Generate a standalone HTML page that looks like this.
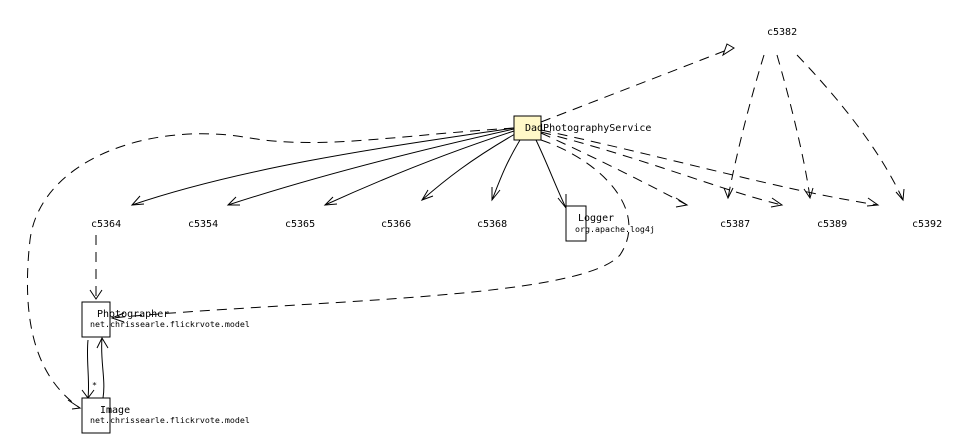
<!DOCTYPE html>
<html><head><meta charset="utf-8"><style>
html,body{margin:0;padding:0;background:#fff;}
svg{display:block;}
text{font-family:"DejaVu Sans Mono","Liberation Mono",monospace;fill:#000;}
.l{font-size:10px;}
.s{font-size:8.3px;}
</style></head><body>
<svg width="958" height="447" viewBox="0 0 958 447" xmlns="http://www.w3.org/2000/svg">
<g fill="none" stroke="#000" stroke-width="1">
<path d="M514 128 C400 145 250 165 132 205"/>
<path d="M514 129 C420 150 320 175 228 205"/>
<path d="M514 131 C440 155 380 180 325 205"/>
<path d="M515 134 C470 160 445 180 422 200"/>
<path d="M520 140 C505 165 500 180 492 200"/>
<path d="M536 140 C548 165 555 185 566 208"/>
<path d="M140 196 L132 205 L144 204"/>
<path d="M236 197 L228 205 L240 205"/>
<path d="M333 197 L325 205 L337 204"/>
<path d="M428 190 L422 200 L433 196"/>
<path d="M492 187 L492 200 L500 190"/>
<path d="M566 194 L566 208 L558 198"/>
</g>
<g fill="none" stroke="#000" stroke-width="1" stroke-dasharray="10,7">
<path d="M541 122 L727 50"/>
<path d="M541 133 C600 160 650 185 687 205"/>
<path d="M541 132 C650 160 720 190 782 205"/>
<path d="M541 130 C680 160 780 190 878 205"/>
<path d="M764 55 C750 100 735 160 728 198"/>
<path d="M777 55 C790 100 805 160 810 198"/>
<path d="M797 55 C840 100 880 150 903 200"/>
<path d="M96 235 L96 298"/>
<path d="M514 128 C400 135 320 150 250 138 C150 120 40 160 30 240 C20 330 40 380 80 408"/>
<path d="M541 140 C600 160 650 210 620 255 C580 300 300 300 112 318"/>
</g>
<g fill="none" stroke="#000">
<polygon points="727,44 734,48 723,55" fill="#fff"/>
<path d="M676 198 L687 205 L676 207"/>
<path d="M772 198 L782 205 L771 207"/>
<path d="M868 198 L878 205 L867 206"/>
<path d="M724 188 L728 198 L733 188"/>
<path d="M804 189 L810 198 L813 188"/>
<path d="M896 192 L903 200 L904 189"/>
<path d="M90 290 L96 299 L102 290"/>
<path d="M68 400 L80 408 L72 409"/>
<path d="M124 313 L112 318 L124 322"/>
<path d="M88 340 C86 360 90 380 88 398"/>
<path d="M82 390 L88 398 L94 390"/>
<path d="M103 398 C106 380 100 360 102 338"/>
<path d="M97 348 L102 338 L108 348"/>
</g>
<rect x="514" y="116" width="27" height="24" fill="#fff8c8" stroke="#000"/>
<rect x="566" y="206" width="20" height="35" fill="#fff" stroke="#000"/>
<rect x="82" y="302" width="28" height="35" fill="#fff" stroke="#000"/>
<rect x="82" y="398" width="28" height="35" fill="#fff" stroke="#000"/>
<text class="l" x="525" y="131">DadPhotographyService</text>
<text class="l" x="767" y="35">c5382</text>
<text class="l" x="91" y="227">c5364</text>
<text class="l" x="188" y="227">c5354</text>
<text class="l" x="285" y="227">c5365</text>
<text class="l" x="381" y="227">c5366</text>
<text class="l" x="477" y="227">c5368</text>
<text class="l" x="720" y="227">c5387</text>
<text class="l" x="817" y="227">c5389</text>
<text class="l" x="912" y="227">c5392</text>
<text class="l" x="578" y="221">Logger</text>
<text class="s" x="575" y="232">org.apache.log4j</text>
<text class="l" x="97" y="317">Photographer</text>
<text class="s" x="90" y="327">net.chrissearle.flickrvote.model</text>
<text class="l" x="100" y="413">Image</text>
<text class="s" x="90" y="423">net.chrissearle.flickrvote.model</text>
<text class="s" x="92" y="388">*</text>
</svg>
</body></html>
